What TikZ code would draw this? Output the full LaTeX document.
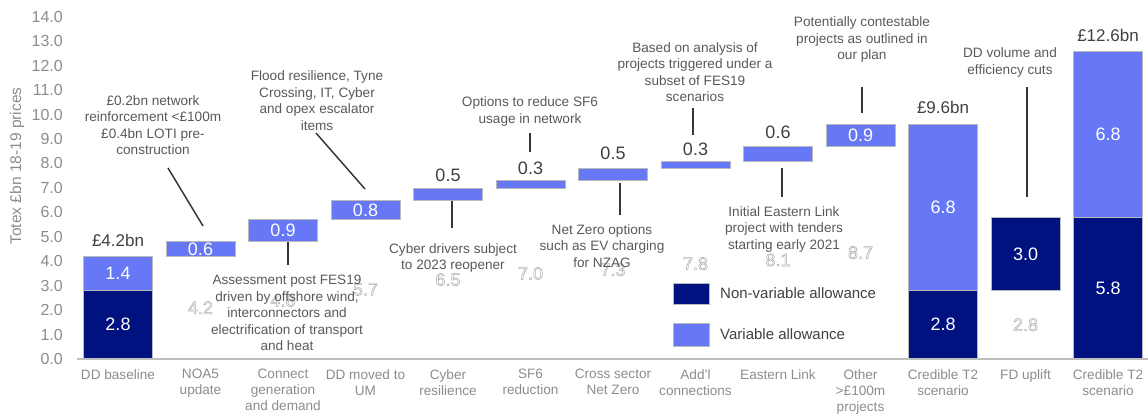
\documentclass[tikz,border=0pt]{standalone}
\usepackage{fontspec}
\setmainfont{Liberation Sans}
\definecolor{navybar}{RGB}{0,18,128}
\definecolor{lightbar}{RGB}{102,120,245}
\definecolor{annc}{RGB}{89,89,89}
\definecolor{axc}{RGB}{140,140,140}
\definecolor{valc}{RGB}{64,64,64}
\definecolor{ghostc}{RGB}{170,170,170}
\definecolor{connc}{RGB}{55,55,55}
\newcommand\wbar[4]{\draw[#4] ({#1-34.5},{vy(#2)}) rectangle ({#1+34.5},{vy(#3)});}
\newcommand\outl[1]{\special{pdf:literal direct 1 Tr 0.5 w}#1\special{pdf:literal direct 0 Tr 1 w}}
\begin{document}
\begin{tikzpicture}[x=1pt,y=-1pt,
  declare function={vy(\v)=359-24.45*\v;},
  darkb/.style={fill=navybar,draw=gray!55,line width=0.7pt},
  lightb/.style={fill=lightbar,draw=gray!55,line width=0.7pt},
  inv/.style={text=white,font=\fontsize{18}{20}\selectfont,inner sep=0pt},
  val/.style={text=valc,font=\fontsize{18}{20}\selectfont,inner sep=0pt},
  tot/.style={text=valc,font=\fontsize{17}{20}\selectfont,inner sep=0pt},
  ghost/.style={text=ghostc,font=\fontsize{18}{20}\selectfont,inner sep=0pt},
  ann/.style={text=annc,font=\fontsize{13.6}{16.5}\selectfont,align=center,inner sep=0pt},
  xlab/.style={text=axc,font=\fontsize{13.6}{16}\selectfont,align=center,anchor=north,inner sep=0pt},
  ytick/.style={text=axc,font=\fontsize{16}{18}\selectfont,anchor=east,inner sep=0pt},
  leg/.style={text=valc,font=\fontsize{15}{18}\selectfont,anchor=west,inner sep=0pt},
  conn/.style={draw=connc,line width=1.5pt}]
\useasboundingbox (0,0) rectangle (1148,415);
% y axis ticks and title
\foreach \k in {0,...,14} \node[ytick] (yt\k) at (63,{vy(\k)}) {\k.0};
\node[text=axc,font=\fontsize{15.5}{18}\selectfont,rotate=90,inner sep=0pt] (ytitle) at (17,166) {Totex £bn 18-19 prices};
% ghost labels of invisible base
\node[ghost] (g1) at (200.5,{vy(2.1)}) {\outl{4.2}};
\node[ghost] (g2) at (283,{vy(2.4)}) {\outl{4.8}};
\node[ghost] (g3) at (365.5,{vy(2.85)}) {\outl{5.7}};
\node[ghost] (g4) at (448,{vy(3.25)}) {\outl{6.5}};
\node[ghost] (g5) at (530.5,{vy(3.5)}) {\outl{7.0}};
\node[ghost] (g6) at (613,{vy(3.65)}) {\outl{7.3}};
\node[ghost] (g7) at (695.5,{vy(3.9)}) {\outl{7.8}};
\node[ghost] (g8) at (778,{vy(4.05)}) {\outl{8.1}};
\node[ghost] (g9) at (860.5,{vy(4.35)}) {\outl{8.7}};
\node[ghost] (g11) at (1025.5,{vy(1.4)}) {\outl{2.8}};
% bars
\wbar{118}{0}{2.8}{darkb}
\wbar{118}{2.8}{4.2}{lightb}
\wbar{200.5}{4.2}{4.8}{lightb}
\wbar{283}{4.8}{5.7}{lightb}
\wbar{365.5}{5.7}{6.5}{lightb}
\wbar{448}{6.5}{7.0}{lightb}
\wbar{530.5}{7.0}{7.3}{lightb}
\wbar{613}{7.3}{7.8}{lightb}
\wbar{695.5}{7.8}{8.1}{lightb}
\wbar{778}{8.1}{8.7}{lightb}
\wbar{860.5}{8.7}{9.6}{lightb}
\wbar{943}{0}{2.8}{darkb}
\wbar{943}{2.8}{9.6}{lightb}
\wbar{1025.5}{2.8}{5.8}{darkb}
\wbar{1108}{0}{5.8}{darkb}
\wbar{1108}{5.8}{12.6}{lightb}
% axis line
\draw[draw=gray!50,line width=1.5pt] (77,359) -- (1148,359);
% values inside bars
\node[inv] (v0a) at (118,{vy(1.4)}) {2.8};
\node[inv] (v0b) at (118,{vy(3.5)}) {1.4};
\node[inv] (v1) at (200.5,{vy(4.5)}) {0.6};
\node[inv] (v2) at (283,{vy(5.25)}) {0.9};
\node[inv] (v3) at (365.5,{vy(6.1)}) {0.8};
\node[inv] (v9) at (860.5,{vy(9.15)}) {0.9};
\node[inv] (v10a) at (943,{vy(1.4)}) {2.8};
\node[inv] (v10b) at (943,{vy(6.2)}) {6.8};
\node[inv] (v11) at (1025.5,{vy(4.3)}) {3.0};
\node[inv] (v12a) at (1108,{vy(2.9)}) {5.8};
\node[inv] (v12b) at (1108,{vy(9.2)}) {6.8};
% values above bars
\node[val] (v4) at (448,175) {0.5};
\node[val] (v5) at (530.5,168) {0.3};
\node[val] (v6) at (613,153) {0.5};
\node[val] (v7) at (695.5,149.5) {0.3};
\node[val] (v8) at (778,132) {0.6};
\node[tot] (t0) at (118,240) {£4.2bn};
\node[tot] (t10) at (943,107) {£9.6bn};
\node[tot] (t12) at (1108,35) {£12.6bn};
% x labels
\node[xlab] (x0) at (118,369) {DD baseline};
\node[xlab] (x1) at (200.5,369) {NOA5\\update};
\node[xlab] (x2) at (283,369) {Connect\\generation\\and demand};
\node[xlab] (x3) at (365.5,369) {DD moved to\\UM};
\node[xlab] (x4) at (448,369) {Cyber\\resilience};
\node[xlab] (x5) at (530.5,369) {SF6\\reduction};
\node[xlab] (x6) at (613,369) {Cross sector\\Net Zero};
\node[xlab] (x7) at (695.5,369) {Add'l\\connections};
\node[xlab] (x8) at (778,369) {Eastern Link};
\node[xlab] (x9) at (860.5,369) {Other\\>£100m\\projects};
\node[xlab] (x10) at (943,369) {Credible T2\\scenario};
\node[xlab] (x11) at (1025.5,369) {FD uplift};
\node[xlab] (x12) at (1108,369) {Credible T2\\scenario};
% annotations
\node[ann] (a1) at (153,125) {£0.2bn network\\reinforcement <£100m\\£0.4bn LOTI pre-\\construction};
\node[ann] (a2) at (317,100.5) {Flood resilience, Tyne\\Crossing, IT, Cyber\\and opex escalator\\items};
\node[ann] (a3) at (530,111.5) {Options to reduce SF6\\usage in network};
\node[ann] (a4) at (453,258) {Cyber drivers subject\\to 2023 reopener};
\node[ann] (a5) at (602,246) {Net Zero options\\such as EV charging\\for NZAG};
\node[ann] (a6) at (695,72) {Based on analysis of\\projects triggered under a\\subset of FES19\\scenarios};
\node[ann] (a7) at (784,229) {Initial Eastern Link\\project with tenders\\starting early 2021};
\node[ann] (a8) at (862,39.5) {Potentially contestable\\projects as outlined in\\our plan};
\node[ann] (a9) at (1010,62.5) {DD volume and\\efficiency cuts};
\node[ann] (a10) at (287,313) {Assessment post FES19\\driven by offshore wind,\\interconnectors and\\electrification of transport\\and heat};
% connectors
\coordinate (c1a) at (168,168); \coordinate (c1b) at (203,226);
\coordinate (c2a) at (316,133); \coordinate (c2b) at (365,189);
\coordinate (c3a) at (530,133); \coordinate (c3b) at (530,152);
\coordinate (c4a) at (452,201); \coordinate (c4b) at (452,228);
\coordinate (c5a) at (620,183); \coordinate (c5b) at (620,215);
\coordinate (c6a) at (693,108); \coordinate (c6b) at (693,135);
\coordinate (c7a) at (782,168); \coordinate (c7b) at (782,197);
\coordinate (c8a) at (862,87); \coordinate (c8b) at (862,113);
\coordinate (c9a) at (1027,87); \coordinate (c9b) at (1027,197);
\coordinate (c10a) at (288,242); \coordinate (c10b) at (288,265);
\foreach \i in {1,...,10} \draw[conn] (c\i a) -- (c\i b);
% legend
\draw[darkb] (673,283) rectangle (709,304);
\draw[lightb] (673,323) rectangle (709,346);
\node[leg] (l1) at (720,293.5) {Non-variable allowance};
\node[leg] (l2) at (720,334) {Variable allowance};
\end{tikzpicture}
\end{document}
